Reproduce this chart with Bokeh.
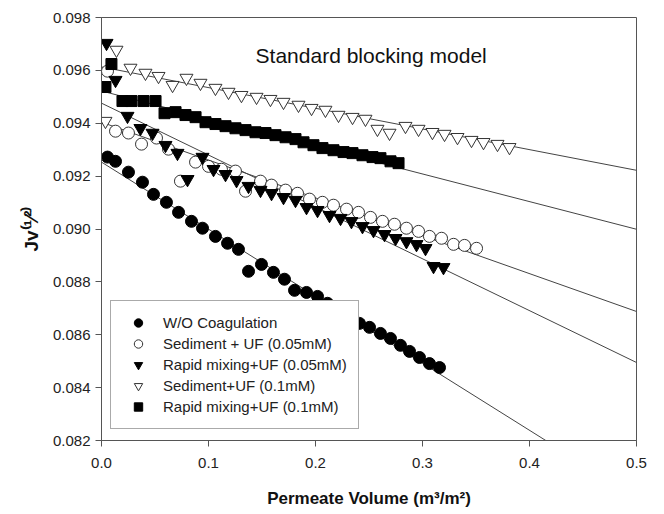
import numpy as np
from bokeh.plotting import figure
from bokeh.models import Range1d, FixedTicker, PrintfTickFormatter, Legend, LegendItem, Label
from bokeh.embed import file_html
from bokeh.resources import INLINE

# ---------------- data ----------------
wo_x = [0.0056, 0.0131, 0.0252, 0.0383, 0.0486, 0.0607, 0.0720, 0.0841, 0.0944, 0.1065,
        0.1178, 0.1280, 0.1374, 0.1495, 0.1607, 0.1710, 0.1804, 0.1916, 0.2019, 0.2112,
        0.2215, 0.2308, 0.2411, 0.2505, 0.2607, 0.2701, 0.2794, 0.2879, 0.2972, 0.3065, 0.3159]
wo_y = [0.09272, 0.09256, 0.09215, 0.09177, 0.09131, 0.09101, 0.09063, 0.09029, 0.09003, 0.08972,
        0.08946, 0.08923, 0.08840, 0.08866, 0.08836, 0.08810, 0.08768, 0.08760, 0.08745, 0.08719,
        0.08692, 0.08669, 0.08643, 0.08628, 0.08605, 0.08586, 0.08560, 0.08537, 0.08514, 0.08491, 0.08476]

sed05_x = [0.0056, 0.0131, 0.0252, 0.0374, 0.0514, 0.0626, 0.0738, 0.0879, 0.1000, 0.1121,
           0.1252, 0.1346, 0.1486, 0.1589, 0.1720, 0.1832, 0.1944, 0.2065, 0.2168, 0.2290,
           0.2402, 0.2514, 0.2626, 0.2738, 0.2850, 0.2963, 0.3065, 0.3178, 0.3290, 0.3393, 0.3505]
sed05_y = [0.09597, 0.09370, 0.09363, 0.09321, 0.09344, 0.09302, 0.09181, 0.09253, 0.09237, 0.09226,
           0.09219, 0.09143, 0.09181, 0.09166, 0.09147, 0.09135, 0.09113, 0.09101, 0.09090, 0.09075,
           0.09063, 0.09044, 0.09029, 0.09018, 0.09003, 0.08991, 0.08972, 0.08965, 0.08942, 0.08938, 0.08927]

rap05_x = [0.0047, 0.0131, 0.0243, 0.0364, 0.0477, 0.0598, 0.0710, 0.0804, 0.0944, 0.1047,
           0.1159, 0.1262, 0.1374, 0.1486, 0.1589, 0.1701, 0.1813, 0.1916, 0.2019, 0.2131,
           0.2234, 0.2336, 0.2439, 0.2542, 0.2645, 0.2748, 0.2850, 0.2944, 0.3028, 0.3103, 0.3196]
rap05_y = [0.09703, 0.09563, 0.09427, 0.09381, 0.09363, 0.09317, 0.09287, 0.09188, 0.09272, 0.09226,
           0.09207, 0.09184, 0.09162, 0.09147, 0.09135, 0.09120, 0.09109, 0.09082, 0.09071, 0.09052,
           0.09041, 0.09029, 0.09010, 0.08995, 0.08980, 0.08965, 0.08953, 0.08942, 0.08927, 0.08859, 0.08855]

sed1_x = [0.0037, 0.0140, 0.0271, 0.0411, 0.0533, 0.0664, 0.0794, 0.0925, 0.1065, 0.1187,
          0.1308, 0.1449, 0.1579, 0.1701, 0.1841, 0.1963, 0.2093, 0.2215, 0.2346, 0.2467,
          0.2579, 0.2692, 0.2841, 0.2963, 0.3093, 0.3206, 0.3327, 0.3458, 0.3570, 0.3701, 0.3813]
sed1_y = [0.09408, 0.09677, 0.09609, 0.09590, 0.09578, 0.09544, 0.09571, 0.09552, 0.09533, 0.09518,
          0.09506, 0.09499, 0.09491, 0.09480, 0.09469, 0.09457, 0.09450, 0.09431, 0.09423, 0.09416,
          0.09378, 0.09363, 0.09389, 0.09378, 0.09366, 0.09359, 0.09347, 0.09336, 0.09328, 0.09321, 0.09309]

rap1_x = [0.0037, 0.0093, 0.0196, 0.0280, 0.0393, 0.0505, 0.0589, 0.0692, 0.0785, 0.0879,
          0.0972, 0.1065, 0.1159, 0.1252, 0.1346, 0.1439, 0.1533, 0.1626, 0.1720, 0.1813,
          0.1888, 0.1981, 0.2065, 0.2168, 0.2262, 0.2346, 0.2439, 0.2533, 0.2607, 0.2701, 0.2776]
rap1_y = [0.09537, 0.09624, 0.09484, 0.09484, 0.09484, 0.09484, 0.09438, 0.09442, 0.09431, 0.09423,
          0.09404, 0.09397, 0.09389, 0.09381, 0.09374, 0.09366, 0.09363, 0.09355, 0.09347, 0.09340,
          0.09328, 0.09317, 0.09306, 0.09298, 0.09291, 0.09287, 0.09279, 0.09272, 0.09268, 0.09256, 0.09249]

# fitted model lines: value at x=0 and at x=0.5
fit_x = [0.0, 0.5]
fit_wo = [0.09253, 0.07985]
fit_sed05 = [0.09404, 0.08688]
fit_rap05 = [0.09476, 0.08495]
fit_sed1 = [0.09613, 0.09222]
fit_rap1 = [0.09522, 0.08999]

series_names = ["W/O Coagulation", "Sediment + UF (0.05mM)", "Rapid mixing+UF (0.05mM)",
                "Sediment+UF (0.1mM)", "Rapid mixing+UF (0.1mM)"]

x_ticks = [0.0, 0.1, 0.2, 0.3, 0.4, 0.5]
y_ticks = [0.082, 0.084, 0.086, 0.088, 0.090, 0.092, 0.094, 0.096, 0.098]

FONT = "Liberation Sans"
AX = "#555555"

p = figure(width=650, height=514, output_backend="svg", toolbar_location=None,
           x_range=Range1d(0, 0.5), y_range=Range1d(0.082, 0.098),
           min_border_left=101, min_border_right=14, min_border_top=17, min_border_bottom=74)
p.background_fill_color = "white"
p.border_fill_color = "white"
p.outline_line_color = AX
p.outline_line_width = 1
p.xgrid.visible = False
p.ygrid.visible = False

for ys in [fit_wo, fit_sed05, fit_rap05, fit_sed1, fit_rap1]:
    p.line(fit_x, ys, line_color="#444444", line_width=1)

r_wo = p.scatter(wo_x, wo_y, marker="circle", size=12, fill_color="black", line_color="black")
r_sed05 = p.scatter(sed05_x, sed05_y, marker="circle", size=12, fill_color="white", line_color="#333333", line_width=1)
r_rap05 = p.scatter(rap05_x, rap05_y, marker="inverted_triangle", size=13, fill_color="black", line_color="black")
r_sed1 = p.scatter(sed1_x, sed1_y, marker="inverted_triangle", size=13, fill_color="white", line_color="#333333", line_width=1)
r_rap1 = p.scatter(rap1_x, rap1_y, marker="square", size=11, fill_color="black", line_color="black")

# axes
for ax in (p.xaxis[0], p.yaxis[0]):
    ax.axis_line_color = AX
    ax.major_tick_line_color = AX
    ax.major_tick_in = 0
    ax.major_tick_out = 6
    ax.minor_tick_line_color = None
    ax.major_label_text_font = FONT
    ax.major_label_text_font_size = "15px"
    ax.major_label_text_color = "#222222"

p.xaxis.ticker = FixedTicker(ticks=x_ticks)
p.xaxis.formatter = PrintfTickFormatter(format="%.1f")
p.xaxis.major_label_standoff = 11
p.xaxis.axis_label = "Permeate Volume (m³/m²)"
p.xaxis.axis_label_text_font = FONT
p.xaxis.axis_label_text_font_size = "17px"
p.xaxis.axis_label_text_font_style = "bold"
p.xaxis.axis_label_text_color = "#111111"
p.xaxis.axis_label_standoff = 18

p.yaxis.ticker = FixedTicker(ticks=y_ticks)
p.yaxis.formatter = PrintfTickFormatter(format="%.3f")
p.yaxis.major_label_standoff = 5
p.yaxis.axis_label = "Jv⁽¹⁄²⁾"
p.yaxis.axis_label_text_font = FONT
p.yaxis.axis_label_text_font_size = "19px"
p.yaxis.axis_label_text_font_style = "bold"
p.yaxis.axis_label_text_color = "#111111"
p.yaxis.axis_label_standoff = 8

# inner title
p.add_layout(Label(x=0.144, y=0.09658, text="Standard blocking model", text_font=FONT,
                   text_font_size="21px", text_color="#111111", text_align="left", text_baseline="alphabetic"))

legend = Legend(items=[LegendItem(label=n, renderers=[r]) for n, r in
                       zip(series_names, [r_wo, r_sed05, r_rap05, r_sed1, r_rap1])],
                location=(9, 11), orientation="vertical")
legend.label_text_font = FONT
legend.label_text_font_size = "15px"
legend.label_text_color = "#222222"
legend.border_line_color = AX
legend.border_line_width = 1
legend.background_fill_color = "white"
legend.background_fill_alpha = 1
legend.padding = 11
legend.margin = 0
legend.spacing = 0
legend.glyph_width = 32
legend.glyph_height = 21
legend.label_height = 21
legend.label_standoff = 9
p.add_layout(legend, "center")

open("out.html", "w").write(file_html(p, INLINE))
